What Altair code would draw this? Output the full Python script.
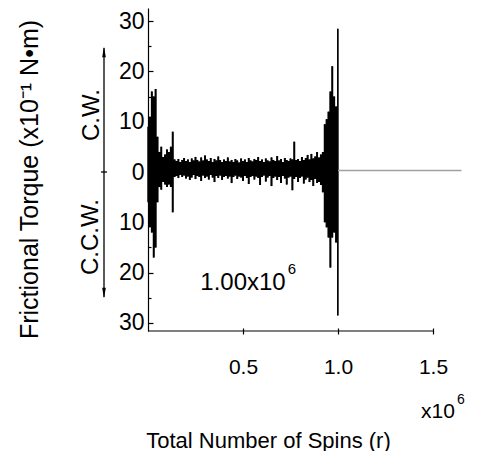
import altair as alt
import pandas as pd

# ---- data (spins in units of 10^6, torque in units of 10^-1 N.m) ----
spins_m = [
    0.00, 0.01, 0.02, 0.03, 0.04, 0.05, 0.06, 0.07, 0.08, 0.09,
    0.10, 0.11, 0.12, 0.13, 0.14, 0.15, 0.16, 0.17, 0.18, 0.19,
    0.20, 0.21, 0.22, 0.23, 0.24, 0.25, 0.26, 0.27, 0.28, 0.29,
    0.30, 0.31, 0.32, 0.33, 0.34, 0.35, 0.36, 0.37, 0.38, 0.39,
    0.40, 0.41, 0.42, 0.43, 0.44, 0.45, 0.46, 0.47, 0.48, 0.49,
    0.50, 0.51, 0.52, 0.53, 0.54, 0.55, 0.56, 0.57, 0.58, 0.59,
    0.60, 0.61, 0.62, 0.63, 0.64, 0.65, 0.66, 0.67, 0.68, 0.69,
    0.70, 0.71, 0.72, 0.73, 0.74, 0.75, 0.76, 0.77, 0.78, 0.79,
    0.80, 0.81, 0.82, 0.83, 0.84, 0.85, 0.86, 0.87, 0.88, 0.89,
    0.90, 0.91, 0.92, 0.93, 0.94, 0.95, 0.96, 0.97, 0.98, 0.99,
    1.00,
]
torque_hi = [
    9.0, 11.0, 16.0, 15.0, 16.5, 7.0, 4.0, 5.0, 3.0, 3.5,
    4.5, 4.0, 5.0, 8.0, 2.5, 2.2, 2.6, 2.0, 2.4, 2.8,
    2.2, 2.5, 2.0, 2.7, 2.3, 3.0, 2.4, 2.1, 2.9, 2.3,
    3.3, 2.5, 2.2, 2.8, 2.0, 2.6, 2.3, 3.1, 2.4, 2.0,
    2.5, 2.2, 2.9, 2.1, 2.4, 2.0, 2.6, 2.3, 1.9, 2.7,
    2.2, 2.5, 2.0, 2.8, 2.3, 2.1, 2.6, 2.4, 3.0, 2.2,
    2.5, 2.0, 2.7, 2.3, 2.1, 2.9, 2.4, 2.2, 3.2, 2.3,
    2.6, 2.0, 2.8, 2.4, 2.2, 2.7, 2.5, 6.0, 2.4, 2.6,
    2.2, 3.0, 2.4, 2.8, 3.4, 2.5, 3.6, 2.7, 3.1, 4.0,
    2.9, 3.5, 4.0, 9.5, 10.5, 12.0, 16.0, 21.0, 15.0, 13.0,
    28.5,
]
torque_lo = [
    -6.0, -11.0, -12.0, -17.0, -15.0, -6.0, -3.0, -3.5, -2.0, -2.5,
    -3.0, -2.5, -3.0, -8.0, -1.0, -0.8, -1.2, -0.6, -1.0, -0.7,
    -1.3, -0.9, -1.6, -1.1, -0.6, -1.4, -0.8, -1.0, -1.8, -0.7,
    -1.2, -0.9, -1.5, -0.6, -1.1, -2.0, -0.8, -1.2, -0.7, -1.6,
    -1.0, -0.8, -1.3, -0.9, -2.2, -1.0, -0.7, -1.4, -0.9, -1.1,
    -1.8, -0.8, -1.2, -2.4, -1.0, -0.8, -1.5, -0.9, -1.2, -2.6,
    -1.0, -0.7, -1.9, -1.1, -0.8, -2.8, -1.2, -0.9, -1.6, -1.0,
    -2.2, -0.8, -1.3, -2.5, -1.1, -0.9, -3.6, -1.4, -1.0, -2.0,
    -1.2, -0.9, -2.3, -1.5, -1.1, -2.0, -1.6, -2.8, -1.4, -2.2,
    -2.0, -2.6, -4.0, -10.0, -11.0, -13.0, -19.0, -13.0, -12.0, -14.0,
    -28.5,
]
idle_spins_m = [1.00, 1.65]
idle_torque = [0.3, 0.3]

y_label_values = [-30, -20, -10, 0, 10, 20, 30]
y_tick_values = [-30, -25, -20, -15, -10, -5, 0, 5, 10, 15, 20, 25, 30]
x_tick_values = [0.5, 1.0, 1.5]
x_axis_span = [0.0, 1.5]

Y_DOMAIN = [-31.6, 32.6]
X_DOMAIN = [0, 1.7]
W, H = 323, 323
FONT = "Liberation Sans"

burst = pd.DataFrame({"spins": spins_m, "hi": torque_hi, "lo": torque_lo})
idle = pd.DataFrame({"spins": idle_spins_m, "torque": idle_torque})
one = pd.DataFrame({"k": [0]})

xscale = alt.Scale(domain=X_DOMAIN, nice=False, zero=False)
yscale = alt.Scale(domain=Y_DOMAIN, nice=False, zero=False)

xaxis = alt.Axis(
    values=x_tick_values, format=".1f", domain=False, grid=False,
    tickSize=6, tickColor="black", tickWidth=1.2, offset=-3,
    labelPadding=22, labelFontSize=21, labelColor="black", labelFont=FONT,
    labelFlush=False,
    title="Total Number of Spins (r)", titleX=120, titleY=119,
    titleBaseline="alphabetic", titleAlign="center", titleFontSize=22,
    titleFontWeight="normal", titleFont=FONT, titleColor="black",
)

yaxis_left = alt.Axis(
    values=y_label_values, labelExpr="format(abs(datum.value), 'd')",
    ticks=False, domain=True, domainColor="black", domainWidth=1.2, grid=False,
    labelPadding=4, labelFontSize=23, labelColor="black", labelFont=FONT,
    title="Frictional Torque (x10⁻¹ N•m)", titleAngle=270, titleX=-119,
    titleY=171, titleBaseline="middle", titleAlign="center",
    titleFontSize=25, titleFontWeight="normal", titleFont=FONT,
    titleColor="black",
)

yaxis_ticks = alt.Axis(
    orient="right", offset=-W, values=y_tick_values, labels=False,
    domain=False, grid=False, title=None, tickColor="black", tickWidth=1.2,
    tickSize={"condition": {"test": "datum.value % 10 === 0", "value": 5}, "value": 3},
)

bursts = alt.Chart(burst).mark_area(color="black", interpolate="step", opacity=1).encode(
    x=alt.X("spins:Q", scale=xscale, axis=xaxis),
    y=alt.Y("lo:Q", scale=yscale, axis=yaxis_left),
    y2="hi:Q",
)
spikes = alt.Chart(burst).mark_rule(color="black", strokeWidth=1.4).encode(
    x=alt.X("spins:Q", scale=xscale, axis=xaxis),
    y=alt.Y("lo:Q", scale=yscale, axis=yaxis_left),
    y2="hi:Q",
)

idle_line = alt.Chart(idle).mark_line(color="#a0a0a0", strokeWidth=1.5).encode(
    x=alt.X("spins:Q", scale=xscale, axis=xaxis),
    y=alt.Y("torque:Q", scale=yscale, axis=yaxis_ticks),
)

x_domain_line = alt.Chart(one).mark_rule(color="black", strokeWidth=1.2).encode(
    x=alt.XDatum(x_axis_span[0], scale=xscale, axis=xaxis),
    x2=alt.X2Datum(x_axis_span[1]),
    y=alt.value(H),
)

txt = dict(font=FONT, color="black")

cw = alt.Chart(one).mark_text(angle=270, align="center", baseline="middle",
                              fontSize=24, **txt).encode(
    x=alt.value(-56), y=alt.value(107), text=alt.value("C.W."))
ccw = alt.Chart(one).mark_text(angle=270, align="center", baseline="middle",
                               fontSize=24, **txt).encode(
    x=alt.value(-57), y=alt.value(229), text=alt.value("C.C.W."))
arrow_line = alt.Chart(one).mark_rule(color="black", strokeWidth=1.3).encode(
    x=alt.value(-44), y=alt.value(40), y2=alt.value(289))
zero_tick = alt.Chart(one).mark_rule(color="black", strokeWidth=1.3).encode(
    x=alt.value(-47), x2=alt.value(-41), y=alt.value(164))
head_up = alt.Chart(one).mark_point(shape="M0,-1L0.35,1L-0.35,1Z", filled=True,
                                    color="black", opacity=1, size=110).encode(
    x=alt.value(-44), y=alt.value(44))
head_down = alt.Chart(one).mark_point(shape="M0,1L0.35,-1L-0.35,-1Z", filled=True,
                                      color="black", opacity=1, size=110).encode(
    x=alt.value(-44), y=alt.value(285))

note = alt.Chart(one).mark_text(align="center", baseline="alphabetic",
                                fontSize=24, **txt).encode(
    x=alt.value(95), y=alt.value(282), text=alt.value("1.00x10"))
note_exp = alt.Chart(one).mark_text(align="center", baseline="alphabetic",
                                    fontSize=15, **txt).encode(
    x=alt.value(144), y=alt.value(266), text=alt.value("6"))
scale_note = alt.Chart(one).mark_text(align="center", baseline="alphabetic",
                                      fontSize=21, **txt).encode(
    x=alt.value(290), y=alt.value(410), text=alt.value("x10"))
scale_exp = alt.Chart(one).mark_text(align="center", baseline="alphabetic",
                                     fontSize=14, **txt).encode(
    x=alt.value(313), y=alt.value(396), text=alt.value("6"))

main = alt.layer(
    bursts, spikes, x_domain_line, cw, ccw, arrow_line, zero_tick,
    head_up, head_down, note, note_exp, scale_note, scale_exp,
)

chart = alt.layer(main, idle_line).resolve_scale(y="independent").properties(
    width=W, height=H,
    autosize=alt.AutoSizeParams(type="none"),
    padding={"left": 140, "top": 0, "right": 4, "bottom": 120},
).configure_view(stroke=None)

chart.save("out.html", embed_options={"renderer": "svg", "actions": False})
